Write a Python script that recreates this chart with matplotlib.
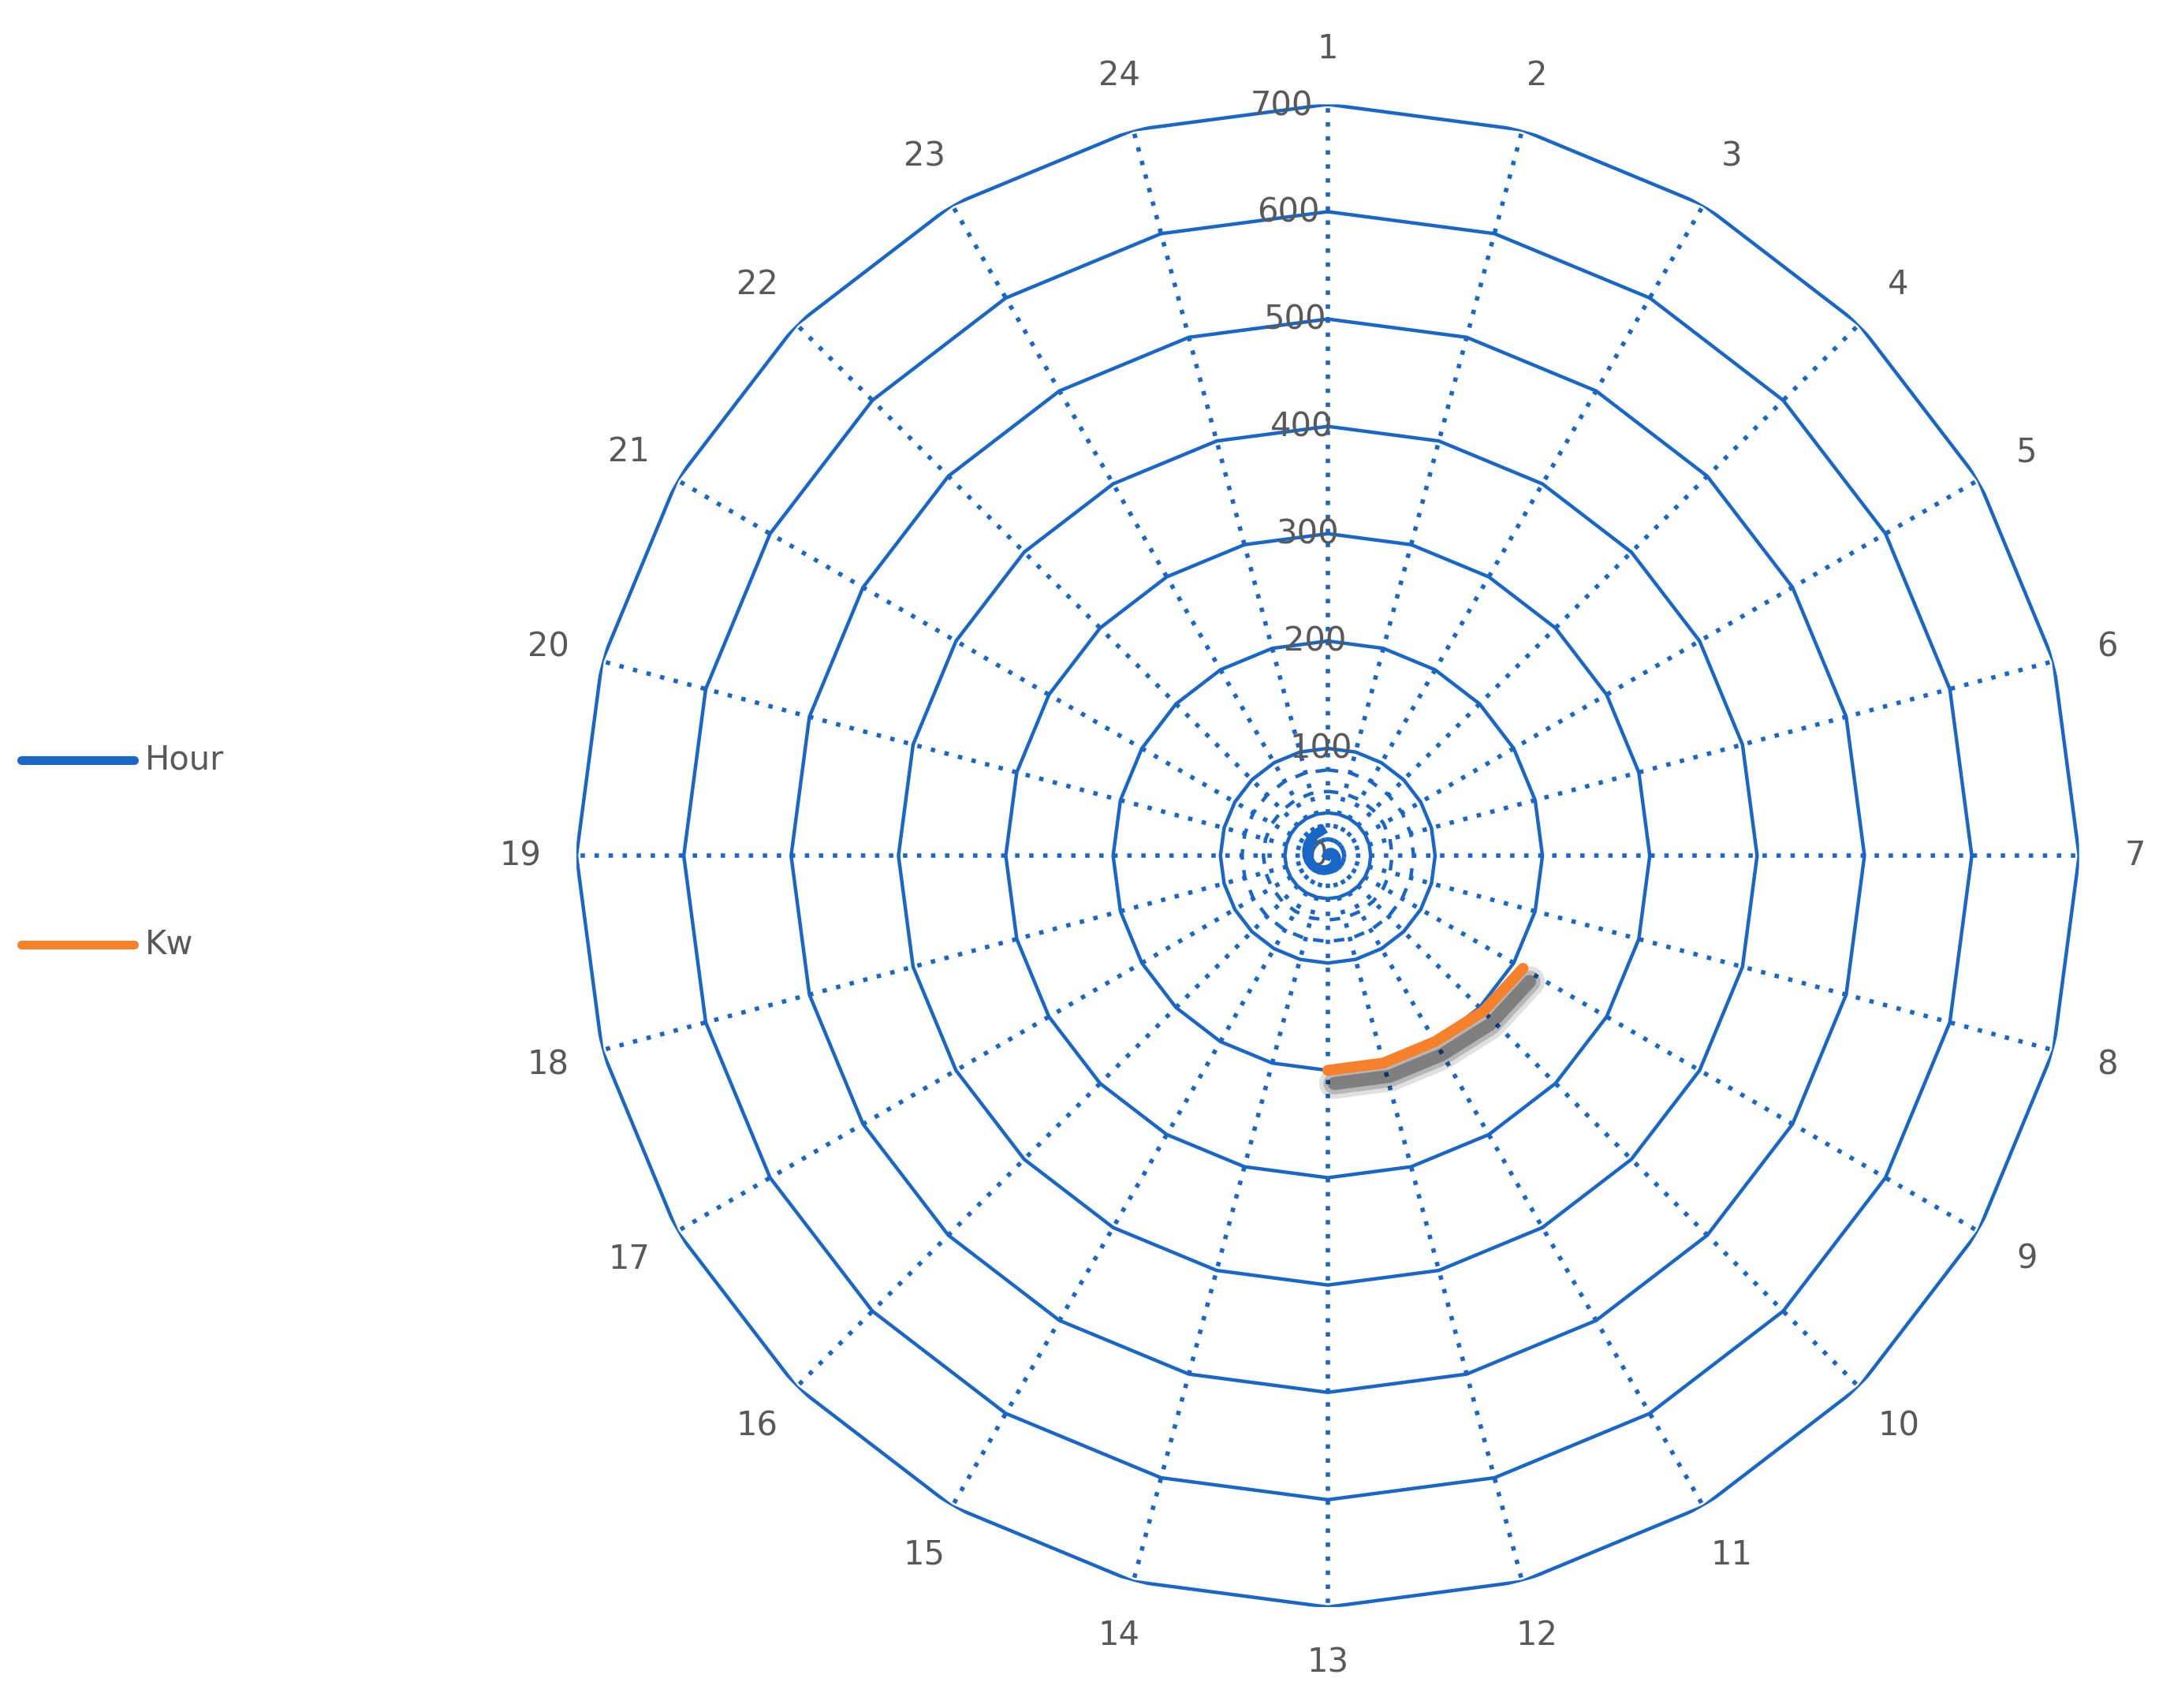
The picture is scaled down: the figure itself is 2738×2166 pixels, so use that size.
import numpy as np
import matplotlib
matplotlib.use("Agg")
import matplotlib.pyplot as plt
import matplotlib.patheffects as pe
from matplotlib.lines import Line2D

categories = [str(i) for i in range(1, 25)]
hour = list(range(1, 25))
kw = [np.nan]*8 + [210, 205, 200, 200, 200] + [np.nan]*11
rticks = [0, 100, 200, 300, 400, 500, 600, 700]
minor_rings = [40, 60, 80]

BLUE = '#1766C8'
ORANGE = '#F7812A'
GRAY = '#595959'

fig = plt.figure(figsize=(13.69, 10.83), dpi=200)
cx, cy, rw, rh = 0.615, 0.499, 0.348, 0.441
ax = fig.add_axes([cx - rw, cy - rh, 2*rw, 2*rh], projection='polar')
ax.set_theta_zero_location('N')
ax.set_theta_direction(-1)
ax.set_ylim(0, 700)
ax.grid(False)
ax.spines['polar'].set_visible(False)
ax.set_xticks([]); ax.set_yticks([])

n = len(categories)
th = np.arange(n) * 2*np.pi/n
thc = np.append(th, th[0])

for r in rticks[1:]:
    ax.plot(thc, [r]*(n+1), color=BLUE, lw=1.6, zorder=2)
for r in minor_rings:
    ls = '-' if r == 40 else (0, (3, 3))
    ax.plot(thc, [r]*(n+1), color=BLUE, lw=1.6, ls=ls, zorder=2)
for t in th:
    ax.plot([t, t], [0, 700], color=BLUE, lw=2.0, ls=(0, (1, 2.2)), zorder=2)

for t, c in zip(th, categories):
    ax.text(t, 752, c, ha='center', va='center', fontsize=15, color=GRAY)
for r in rticks:
    ax.text(np.deg2rad(-3.5 if r else -8), r, str(r), ha='right' if r == 0 else 'center',
            va='center', fontsize=15, color=GRAY, zorder=3)

ax.plot(th, hour, color=BLUE, lw=4.5, zorder=4)
shadows = [pe.SimpleLineShadow(offset=(3, -6), shadow_color='k', alpha=a, linewidth=w)
           for a, w in [(0.12, 14), (0.18, 10), (0.3, 6)]]
ax.plot(th, kw, color=ORANGE, lw=5, solid_capstyle='round', zorder=5,
        path_effects=shadows + [pe.Normal()])

for y, lab, col in [(0.555, 'Hour', BLUE), (0.447, 'Kw', ORANGE)]:
    fig.add_artist(Line2D([0.01, 0.062], [y, y], color=col, lw=4, solid_capstyle='round',
                          transform=fig.transFigure))
    fig.text(0.067, y, lab, va='center', ha='left', fontsize=15, color=GRAY)

fig.savefig('out.png', dpi=200, facecolor='white')
